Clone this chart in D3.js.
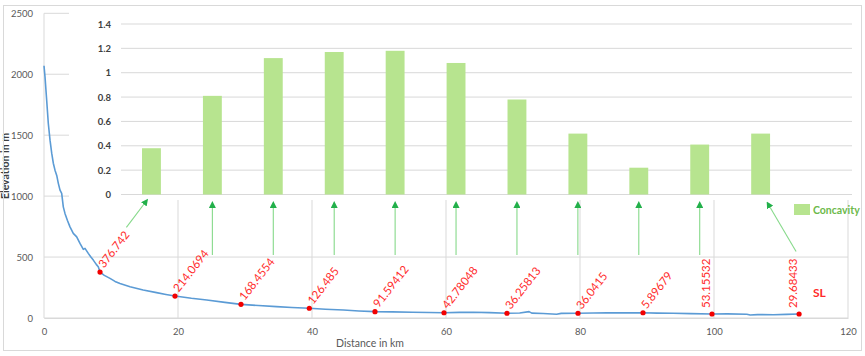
<!DOCTYPE html>
<html>
<head>
<meta charset="utf-8">
<script src="https://cdn.jsdelivr.net/npm/d3@7"></script>
<style>
  body { margin: 0; background: #fff; }
  text { font-family: Lato, "Open Sans", sans-serif; }
</style>
</head>
<body>
<svg id="chart" width="865" height="356"></svg>
<script>
// Longitudinal river profile (distance in km, elevation in m)
const profileKm = [0, 0.15, 0.4, 0.64, 0.9, 1.15, 1.39, 1.64, 1.9, 2.13, 2.39, 2.64, 2.88, 3.13, 3.5, 3.88,
  4.37, 4.88, 5.37, 5.87, 6.12, 6.61, 7.0, 7.36, 7.8, 8.1, 8.36, 9.0, 9.85, 10.6, 11.34, 12.84, 14.8, 16.8,
  18.2, 19.55, 22.0, 24.3, 27.0, 29.4, 32.0, 34.7, 37.0, 39.6, 42.0, 44.7, 47.0, 49.4, 52.0, 55.0, 57.5,
  59.7, 62.0, 64.1, 66.5, 69.1, 71.0, 72.4, 72.8, 74.5, 76.5, 77.2, 79.7, 82.0, 84.0, 86.5, 89.4, 91.5,
  93.9, 96.5, 99.7, 102.0, 104.9, 105.4, 106.5, 108.9, 110.8, 112.7];
const profileElev = [2070, 1978, 1787, 1598, 1459, 1352, 1270, 1213, 1170, 1107, 1049, 1022, 912, 858, 800, 748,
  694, 666, 612, 563, 571, 530, 500, 475, 440, 420, 377, 350, 325, 300, 284, 257, 230, 208,
  193, 180, 162, 148, 128, 112, 102, 93, 86, 80, 72, 66, 58, 52, 50, 47, 45,
  43, 46, 47, 44, 39, 41, 52, 40, 37, 31, 38, 39, 41, 43, 42, 43, 40,
  39, 36, 33, 34, 31, 25, 28, 27, 30, 33];

// Stream-length gradient index (SL) sampling points along the profile
const slKm = [8.36, 19.55, 29.4, 39.6, 49.4, 59.7, 69.1, 79.7, 89.4, 99.7, 112.7];
const slElev = [377, 180, 112, 80, 52, 43, 39, 39, 43, 33, 33];
const slValues = [376.742, 214.0694, 168.4554, 126.485, 91.59412, 42.78048, 36.25813, 36.0415, 5.89679, 53.15532, 29.68433];

// Concavity per reach
const reaches = ["1", "2", "3", "4", "5", "6", "7", "8", "9", "10", "11"];
const concavity = [0.38, 0.81, 1.12, 1.17, 1.18, 1.08, 0.78, 0.50, 0.22, 0.41, 0.50];

const xTicks = [0, 20, 40, 60, 80, 100, 120];
const yTicks = [0, 500, 1000, 1500, 2000, 2500];
const concavityTicks = [0, 0.2, 0.4, 0.6, 0.8, 1, 1.2, 1.4];

const svg = d3.select("#chart");
const grid = "#d9d9d9", tickCol = "#595959";
const red = "#ff2a2a", green = "#b7e48f";

// ---------- main profile chart ----------
const x = d3.scaleLinear().domain([0, 120]).range([44, 848]);
const y = d3.scaleLinear().domain([0, 2500]).range([318, 13.3]);

const main = svg.append("g");
main.append("g").selectAll("line").data(yTicks).join("line")
  .attr("x1", x(0)).attr("x2", x(120)).attr("y1", d => y(d)).attr("y2", d => y(d))
  .attr("stroke", grid).attr("stroke-width", 1);
main.append("g").selectAll("line").data(xTicks).join("line")
  .attr("x1", d => x(d)).attr("x2", d => x(d)).attr("y1", y(0)).attr("y2", y(2500))
  .attr("stroke", grid).attr("stroke-width", 1);

const xAxis = d3.axisBottom(x).tickValues(xTicks).tickSize(0).tickPadding(10).tickFormat(d => String(d));
main.append("g").attr("transform", `translate(0,${y(0)})`).call(xAxis)
  .call(g => g.select(".domain").attr("stroke", grid))
  .call(g => g.selectAll("text").attr("fill", tickCol).attr("font-size", 9.5).attr("font-family", "Lato"));

const yAxis = d3.axisLeft(y).tickValues(yTicks).tickSize(0).tickPadding(11).tickFormat(d => String(d));
main.append("g").attr("transform", `translate(${x(0)},0)`).call(yAxis)
  .call(g => g.select(".domain").remove())
  .call(g => g.selectAll("text").attr("fill", tickCol).attr("font-size", 9.5).attr("font-family", "Lato"));

main.append("path")
  .datum(d3.zip(profileKm, profileElev))
  .attr("fill", "none").attr("stroke", "#5b9bd5").attr("stroke-width", 1.6)
  .attr("stroke-linejoin", "round")
  .attr("d", d3.line().x(d => x(d[0])).y(d => y(d[1])));

const sl = d3.range(slKm.length).map(i => ({ km: slKm[i], elev: slElev[i], v: slValues[i], i }));
main.append("g").selectAll("circle").data(sl).join("circle")
  .attr("cx", d => x(d.km)).attr("cy", d => y(d.elev)).attr("r", 2.6).attr("fill", "#f20000");

// SL value labels, slanted except the last two which stand upright
const labelAngle = d => d.i >= 9 ? -90 : -52;
const labels = main.append("g").selectAll("text").data(sl).join("text")
  .attr("transform", d => `translate(${x(d.km)},${y(d.elev)}) rotate(${labelAngle(d)})`)
  .attr("x", d => d.i >= 9 ? 6 : 5)
  .attr("y", d => d.i >= 9 ? -2 : 1)
  .attr("fill", red).attr("font-size", 11.5)
  .text(d => d.v);

main.append("text").attr("x", 813).attr("y", 297).attr("fill", red)
  .attr("font-size", 12).attr("font-weight", 700).text("SL");

main.append("text").attr("x", 370).attr("y", 347).attr("text-anchor", "middle")
  .attr("fill", tickCol).attr("font-size", 10.5).text("Distance in km");
main.append("text").attr("transform", "translate(9,166) rotate(-90)").attr("text-anchor", "middle")
  .attr("fill", "#404040").attr("font-size", 10.5).attr("font-weight", 700).text("Elevation in m");

// ---------- inset concavity chart ----------
const inset = svg.append("g");
inset.append("rect").attr("x", 69).attr("y", 6).attr("width", 786).attr("height", 194).attr("fill", "#fff");

const yc = d3.scaleLinear().domain([0, 1.4]).range([194.5, 24]);
const plotL = 121, plotR = 852;
const xc = d3.scaleBand().domain(reaches).range([plotL, plotL + (plotR - plotL) * 11 / 12]);
const barW = xc.bandwidth() * 0.31;

inset.append("g").selectAll("line").data(concavityTicks).join("line")
  .attr("x1", plotL).attr("x2", plotR).attr("y1", d => yc(d)).attr("y2", d => yc(d))
  .attr("stroke", grid).attr("stroke-width", 1);

const ycAxis = d3.axisLeft(yc).tickValues(concavityTicks).tickSize(0).tickPadding(10).tickFormat(d => String(d));
inset.append("g").attr("transform", `translate(${plotL},0)`).call(ycAxis)
  .call(g => g.select(".domain").remove())
  .call(g => g.selectAll("text").attr("fill", "#404040").attr("font-size", 9.5).attr("font-family", "Lato").attr("font-weight", 700));

inset.append("g").selectAll("rect").data(d3.zip(reaches, concavity)).join("rect")
  .attr("x", d => xc(d[0]) + xc.bandwidth() / 2 - barW / 2)
  .attr("width", barW)
  .attr("y", d => yc(d[1]))
  .attr("height", d => yc(0) - yc(d[1]))
  .attr("fill", green);

// legend
inset.append("rect").attr("x", 794).attr("y", 204).attr("width", 16).attr("height", 11).attr("fill", green);
inset.append("text").attr("x", 813).attr("y", 213.5).attr("fill", "#6cb94a")
  .attr("font-size", 10.5).attr("font-weight", 700).text("Concavity");

// arrows from each SL label up to its concavity bar
const defs = svg.append("defs");
defs.append("marker").attr("id", "head").attr("viewBox", "0 0 10 10")
  .attr("refX", 5).attr("refY", 5).attr("markerWidth", 7).attr("markerHeight", 7)
  .attr("markerUnits", "userSpaceOnUse").attr("orient", "auto")
  .append("path").attr("d", "M0,0 L10,5 L0,10 Z").attr("fill", "#22b04a");

const arrows = [];
labels.each(function (d) {
  const len = this.getComputedTextLength();
  const a = labelAngle(d) * Math.PI / 180;
  const ox = d.i >= 9 ? 6 : 5;
  const endX = x(d.km) + (ox + len) * Math.cos(a);
  const endY = y(d.elev) + (ox + len) * Math.sin(a);
  const cx = xc(reaches[d.i]) + xc.bandwidth() / 2;
  const last = d.i === sl.length - 1, first = d.i === 0;
  if (first || last) {
    const tx = endX - 3, ty = endY - 7;
    arrows.push({ x1: tx, y1: ty, x2: cx + (tx - cx) * 0.22, y2: yc(0) + (first ? 7 : 10) });
  } else {
    arrows.push({ x1: cx, y1: y(500) - 2, x2: cx, y2: yc(0) + 10 });
  }
});
svg.append("g").selectAll("line").data(arrows).join("line")
  .attr("x1", d => d.x1).attr("y1", d => d.y1).attr("x2", d => d.x2).attr("y2", d => d.y2)
  .attr("stroke", "#86d98a").attr("stroke-width", 1.1)
  .attr("marker-end", "url(#head)");

// outer chart border
svg.append("rect").attr("x", 3.5).attr("y", 5.5).attr("width", 858).attr("height", 345)
  .attr("fill", "none").attr("stroke", "#d9d9d9").attr("stroke-width", 1);
</script>
</body>
</html>
